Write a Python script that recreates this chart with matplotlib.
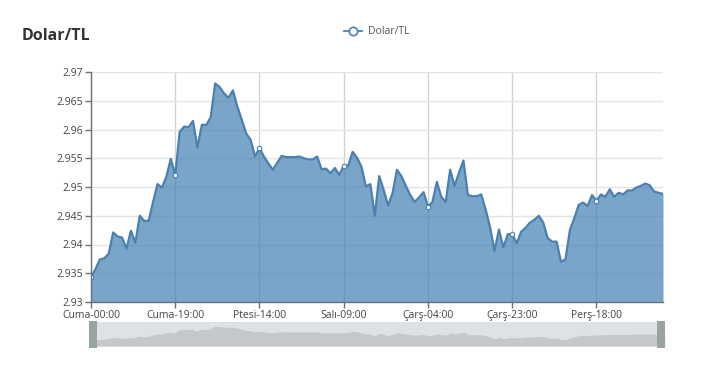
import matplotlib
matplotlib.use("Agg")
import matplotlib.pyplot as plt
import numpy as np

plt.rcParams['font.family'] = ['Open Sans', 'DejaVu Sans']

title = "Dolar/TL"
series_name = "Dolar/TL"
values = [
    2.9343, 2.9357, 2.9374, 2.9376, 2.9384, 2.9421, 2.9414, 2.9412, 2.9393, 2.9424,
    2.9403, 2.9450, 2.9441, 2.9441, 2.9474, 2.9505, 2.9499, 2.9518, 2.9549, 2.9521,
    2.9596, 2.9605, 2.9604, 2.9615, 2.9569, 2.9608, 2.9608, 2.9621, 2.9680, 2.9674,
    2.9663, 2.9655, 2.9668, 2.9640, 2.9617, 2.9593, 2.9582, 2.9553, 2.9568, 2.9553,
    2.9541, 2.9530, 2.9542, 2.9554, 2.9552, 2.9552, 2.9552, 2.9553, 2.9550, 2.9548,
    2.9548, 2.9553, 2.9531, 2.9532, 2.9524, 2.9533, 2.9521, 2.9537, 2.9537, 2.9561,
    2.9551, 2.9535, 2.9501, 2.9505, 2.9450, 2.9519, 2.9495, 2.9468, 2.9489, 2.9530,
    2.9519, 2.9502, 2.9486, 2.9474, 2.9482, 2.9491, 2.9466, 2.9474, 2.9509, 2.9483,
    2.9474, 2.9530, 2.9502, 2.9525, 2.9546, 2.9486, 2.9484, 2.9484, 2.9487, 2.9461,
    2.9430, 2.9389, 2.9426, 2.9395, 2.9418, 2.9418, 2.9402, 2.9422, 2.9429, 2.9438,
    2.9443, 2.9450, 2.9438, 2.9411, 2.9405, 2.9405, 2.9370, 2.9374, 2.9425, 2.9446,
    2.9469, 2.9473, 2.9467, 2.9486, 2.9476, 2.9487, 2.9483, 2.9496, 2.9483, 2.9490,
    2.9487, 2.9494, 2.9494, 2.9499, 2.9502, 2.9506, 2.9503, 2.9492, 2.9490, 2.9488,
]
x_tick_labels = ["Cuma-00:00", "Cuma-19:00", "Ptesi-14:00", "Salı-09:00",
                 "Çarş-04:00", "Çarş-23:00", "Perş-18:00"]
label_interval = 19
y_ticks = [2.93, 2.935, 2.94, 2.945, 2.95, 2.955, 2.96, 2.965, 2.97]

W, H = 722, 376
fig = plt.figure(figsize=(W / 100, H / 100), dpi=100)

def box(l, t, r, b):
    return [l / W, 1 - b / H, (r - l) / W, (b - t) / H]

line_c = '#4a80b0'
fill_c = '#4682b4'
axis_c = '#6e7079'
hgrid_c = '#e4e4e4'
vgrid_c = '#d2d2d2'
text_c = '#444444'

x = np.arange(len(values))
tick_pos = [i * label_interval for i in range(len(x_tick_labels))]

ax = fig.add_axes(box(91, 72, 663, 302))
ax.set_xlim(0, len(values) - 1)
ax.set_ylim(y_ticks[0], y_ticks[-1])
ax.fill_between(x, values, y_ticks[0], color=fill_c, alpha=0.72, linewidth=0, zorder=2)
ax.plot(x, values, color=line_c, linewidth=1.6, zorder=3)
ax.plot(tick_pos, [values[i] for i in tick_pos], linestyle='none', marker='o',
        markersize=3.2, markerfacecolor='white', markeredgecolor=line_c,
        markeredgewidth=0.8, zorder=4)

ax.set_yticks(y_ticks)
ax.set_yticklabels([f"{v:g}" for v in y_ticks])
ax.set_xticks(tick_pos)
ax.set_xticklabels(x_tick_labels)
ax.grid(True, axis='y', color=hgrid_c, linewidth=1, zorder=0)
ax.grid(True, axis='x', color=vgrid_c, linewidth=1, zorder=0)
ax.set_axisbelow(True)
for s in ['top', 'right']:
    ax.spines[s].set_visible(False)
for s in ['left', 'bottom']:
    ax.spines[s].set_color(axis_c)
    ax.spines[s].set_linewidth(1)
    ax.spines[s].set_zorder(5)
ax.tick_params(axis='both', colors=axis_c, labelcolor=text_c, labelsize=7.5,
               length=4, width=1, pad=1.5)

# title
fig.text(22 / W, 1 - 36 / H, title, fontsize=11.5, fontweight='bold',
         color='#333333', ha='left', va='center')

# legend
ly = 1 - 31 / H
fig.add_artist(plt.Line2D([344 / W, 362 / W], [ly, ly], color=line_c, linewidth=1.3,
                          marker=None, transform=fig.transFigure))
fig.add_artist(plt.Line2D([353 / W], [ly], color=line_c, marker='o', markersize=6,
                          markerfacecolor='white', markeredgewidth=1.2,
                          transform=fig.transFigure))
fig.text(368 / W, ly, series_name, fontsize=7.5, color='#555555', ha='left', va='center')

# data zoom slider
sx = fig.add_axes(box(89, 322, 665, 347))
sx.set_xlim(-0.03 * len(values) / 72, len(values) - 1 + 0.03 * len(values) / 72)
vmin, vmax = min(values), max(values)
rng = vmax - vmin
sx.set_ylim(vmin - rng * 0.42, vmax + rng * 0.30)
sx.set_facecolor('#dfe2e5')
sx.fill_between(x, values, vmin - rng * 0.33, color='#c5c8cb', linewidth=0)
for s in sx.spines.values():
    s.set_visible(False)
sx.set_xticks([])
sx.set_yticks([])
for hx in (89, 657):
    hax = fig.add_axes(box(hx, 321, hx + 8, 348))
    hax.set_facecolor('#98a4a1')
    for s in hax.spines.values():
        s.set_visible(False)
    hax.set_xticks([])
    hax.set_yticks([])

fig.savefig("out.png", dpi=100)
